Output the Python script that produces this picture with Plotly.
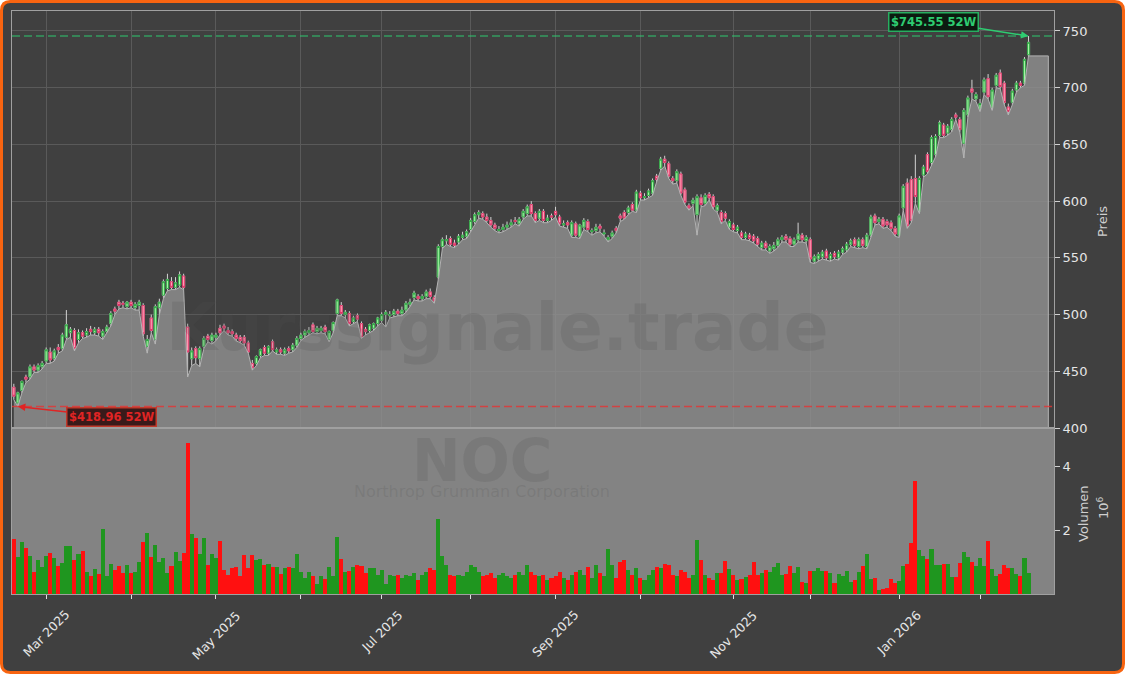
import pandas as pd
import plotly.graph_objects as go

W, H = 1125, 674
ML, MR, MT, MB = 12, 71, 11, 80
VOL_TOP = 0.2847  # share of plot height used by the volume panel

# trading calendar NOC, 52 weeks
holidays = ["2025-04-18", "2025-05-26", "2025-06-19", "2025-07-04", "2025-09-01",
            "2025-11-27", "2025-12-25", "2026-01-01", "2026-01-19", "2026-02-16"]
dates = pd.bdate_range("2025-02-19", "2026-02-19", freq="C", holidays=holidays)

opens = [
    436, 422, 433, 445, 445, 454, 451, 454, 459, 467,
    461, 471, 470, 480, 484, 486, 478, 484, 482, 487,
    484, 487, 481, 485, 492, 505, 511, 510, 507, 511,
    506, 508, 508, 472, 497, 478, 506, 517, 523, 529,
    524, 526, 534, 489, 461, 470, 461, 472, 481, 477,
    480, 488, 490, 486, 485, 482, 480, 480, 475, 457,
    457, 464, 471, 466, 476, 467, 469, 466, 470, 469,
    473, 479, 482, 484, 491, 485, 486, 489, 478, 486,
    501, 508, 500, 501, 494, 499, 492, 487, 486, 488,
    492, 495, 500, 499, 500, 503, 501, 504, 509, 515,
    516, 514, 516, 520, 515, 533, 560, 565, 567, 563,
    564, 568, 569, 575, 582, 588, 589, 586, 583, 579,
    574, 575, 577, 579, 583, 580, 586, 589, 597, 589,
    585, 591, 583, 587, 591, 586, 579, 581, 570, 580,
    569, 577, 582, 573, 574, 578, 571, 566, 569, 576,
    587, 590, 590, 597, 592, 607, 603, 605, 607, 622,
    629, 637, 633, 620, 618, 624, 610, 596, 598, 588,
    603, 598, 606, 604, 592, 590, 589, 577, 579, 574,
    572, 568, 570, 569, 567, 559, 563, 556, 558, 561,
    566, 569, 567, 562, 566, 570, 565, 566, 547, 549,
    551, 556, 549, 554, 550, 555, 557, 562, 566, 560,
    566, 560, 570, 587, 582, 584, 582, 581, 576, 570,
    594, 616, 619, 620, 591, 623, 641, 634, 641, 658,
    667, 660, 663, 676, 672, 651, 676, 699, 690, 681,
    696, 708, 682, 702, 713, 704, 683, 687, 698, 704,
    704, 729,
]
highs = [
    439, 432, 442, 447, 456, 456, 457, 459, 471, 471,
    470, 474, 484, 504, 489, 488, 487, 486, 488, 490,
    489, 489, 487, 491, 503, 507, 513, 512, 512, 513,
    511, 513, 510, 482, 500, 509, 514, 531, 536, 533,
    533, 538, 536, 492, 471, 472, 472, 481, 483, 484,
    484, 491, 492, 489, 487, 484, 482, 482, 477, 460,
    464, 470, 473, 473, 478, 471, 471, 471, 472, 475,
    481, 484, 487, 489, 493, 490, 490, 491, 486, 494,
    514, 511, 504, 503, 499, 501, 494, 489, 492, 493,
    498, 502, 504, 503, 505, 505, 507, 512, 514, 521,
    518, 518, 522, 523, 517, 562, 568, 570, 569, 566,
    571, 573, 575, 585, 590, 592, 591, 589, 586, 581,
    578, 580, 582, 584, 586, 586, 593, 597, 600, 591,
    593, 593, 588, 589, 595, 588, 583, 583, 583, 582,
    580, 585, 584, 576, 580, 580, 575, 570, 574, 578,
    589, 592, 596, 599, 610, 609, 607, 611, 620, 624,
    639, 640, 635, 622, 628, 626, 612, 598, 603, 606,
    606, 607, 608, 606, 598, 592, 591, 584, 581, 579,
    574, 573, 572, 571, 569, 565, 565, 562, 564, 568,
    570, 571, 569, 568, 581, 572, 570, 568, 553, 555,
    557, 558, 555, 556, 557, 560, 564, 567, 568, 568,
    568, 572, 588, 589, 586, 586, 584, 583, 578, 589,
    615, 620, 622, 641, 622, 632, 643, 658, 659, 671,
    669, 668, 674, 678, 674, 682, 693, 707, 696, 690,
    709, 712, 700, 713, 716, 706, 686, 699, 706, 706,
    727, 745.55,
]
lows = [
    425, 418.96, 431, 440, 443, 449, 449, 452, 457, 457,
    459, 466, 468, 478, 480, 468, 475, 479, 480, 482,
    482, 481, 478, 484, 490, 500, 505, 506, 505, 506,
    504, 504, 481, 466, 484, 474, 500, 514, 521, 522,
    522, 524, 522, 445, 455, 457, 454, 470, 476, 474,
    477, 482, 486, 482, 481, 477, 475, 473, 466, 451,
    455, 462, 464, 464, 468, 465, 465, 464, 466, 467,
    471, 477, 480, 482, 484, 483, 484, 483, 476, 484,
    499, 499, 497, 490, 492, 494, 479, 482, 484, 486,
    490, 493, 489, 497, 498, 499, 499, 502, 507, 513,
    512, 512, 514, 514, 510, 531, 558, 562, 560, 559,
    562, 566, 567, 573, 580, 585, 584, 581, 577, 574,
    572, 573, 575, 577, 580, 578, 584, 587, 587, 581,
    583, 581, 581, 583, 586, 578, 577, 576, 568, 568,
    567, 575, 573, 570, 572, 573, 569, 564, 567, 572,
    582, 584, 588, 591, 590, 601, 601, 603, 605, 617,
    627, 631, 620, 615, 616, 605, 597, 592, 596, 570,
    595, 596, 601, 593, 590, 580, 583, 575, 573, 572,
    566, 566, 565, 563, 560, 557, 557, 554, 556, 559,
    564, 564, 560, 560, 564, 564, 563, 546, 545, 547,
    549, 548, 547, 549, 548, 553, 555, 560, 559, 558,
    559, 558, 568, 579, 580, 576, 577, 574, 569, 568,
    592, 576, 581, 598, 589, 621, 624, 632, 639, 656,
    656, 658, 661, 672, 661, 638, 674, 690, 688, 679,
    694, 690, 680, 700, 699, 685, 676, 685, 696, 700,
    702, 728,
]
closes = [
    428, 431, 441, 443, 454, 451, 455, 457, 469, 460,
    468, 469, 482, 491, 487, 470, 484, 481, 485, 485,
    487, 484, 485, 489, 501, 503, 508, 509, 511, 508,
    509, 511, 483, 478, 486, 507, 511, 529, 531, 524,
    528, 535, 524, 467, 468, 462, 470, 479, 478, 482,
    482, 484, 488, 484, 483, 479, 477, 475, 467, 453,
    463, 469, 466, 472, 469, 469, 467, 469, 468, 473,
    479, 482, 485, 486, 485, 488, 488, 485, 485, 493,
    513, 501, 502, 492, 497, 496, 480, 485, 491, 492,
    497, 500, 502, 500, 503, 501, 504, 510, 511, 519,
    514, 516, 520, 516, 512, 560, 566, 566, 562, 561,
    569, 570, 573, 583, 588, 590, 586, 583, 579, 576,
    575, 577, 579, 581, 582, 584, 591, 595, 589, 583,
    591, 583, 585, 586, 588, 580, 580, 579, 581, 570,
    579, 583, 575, 574, 577, 576, 572, 568, 572, 574,
    585, 585, 594, 592, 608, 603, 604, 609, 618, 619,
    637, 634, 622, 618, 626, 607, 599, 594, 601, 604,
    597, 605, 603, 595, 596, 582, 585, 582, 575, 577,
    568, 571, 567, 565, 562, 563, 559, 560, 561, 566,
    568, 566, 562, 566, 571, 566, 568, 549, 551, 553,
    555, 550, 553, 551, 555, 558, 562, 565, 561, 566,
    561, 570, 586, 581, 584, 578, 579, 576, 571, 587,
    613, 578, 583, 604, 620, 630, 626, 656, 657, 669,
    658, 666, 672, 674, 663, 680, 691, 696, 694, 686,
    707, 692, 698, 711, 701, 687, 679, 697, 704, 702,
    725, 740,
]
# volume in millions of shares
volumes = [
    1.72, 1.17, 1.62, 1.44, 1.19, 0.69, 1.06, 0.85, 1.19, 1.27,
    1.12, 0.87, 0.96, 1.50, 1.50, 1.06, 1.25, 1.34, 0.69, 0.56,
    0.78, 0.62, 2.03, 0.56, 0.94, 0.75, 0.87, 0.66, 0.91, 0.66,
    0.69, 1.00, 1.62, 1.90, 1.16, 1.53, 1.00, 1.12, 0.66, 0.87,
    1.31, 1.03, 1.28, 4.73, 1.87, 1.75, 1.25, 1.75, 0.91, 1.25,
    1.12, 1.66, 0.75, 0.59, 0.81, 0.84, 0.56, 1.22, 0.81, 1.22,
    1.06, 1.09, 0.91, 0.94, 0.84, 0.84, 0.62, 0.81, 0.84, 0.81,
    1.25, 0.69, 0.50, 0.69, 0.56, 0.31, 0.56, 0.47, 0.84, 0.56,
    1.78, 1.09, 0.69, 0.72, 0.84, 0.91, 0.87, 0.66, 0.81, 0.81,
    0.59, 0.75, 0.31, 0.59, 0.55, 0.60, 0.50, 0.60, 0.55, 0.65,
    0.45, 0.60, 0.70, 0.80, 0.75, 2.35, 1.20, 0.90, 0.60, 0.55,
    0.60, 0.55, 0.70, 0.90, 0.85, 0.70, 0.55, 0.60, 0.65, 0.50,
    0.60, 0.65, 0.55, 0.50, 0.60, 0.70, 0.60, 0.90, 0.70, 0.60,
    0.55, 0.60, 0.45, 0.50, 0.55, 0.70, 0.50, 0.45, 0.60, 0.70,
    0.75, 0.60, 0.85, 0.50, 0.90, 0.65, 0.55, 1.40, 0.90, 0.50,
    1.00, 1.05, 0.75, 0.60, 0.80, 0.50, 0.45, 0.60, 0.75, 0.85,
    0.80, 0.95, 0.90, 0.60, 0.55, 0.75, 0.70, 0.50, 0.60, 1.69,
    1.06, 0.59, 0.49, 0.44, 0.66, 0.66, 1.03, 0.78, 0.59, 0.44,
    0.47, 0.53, 0.59, 1.00, 0.59, 0.67, 0.75, 0.69, 0.85, 0.96,
    0.59, 0.62, 0.87, 0.66, 0.84, 0.37, 0.34, 0.72, 0.72, 0.81,
    0.72, 0.72, 0.66, 0.34, 0.62, 0.56, 0.72, 0.37, 0.44, 0.69,
    0.87, 1.25, 0.47, 0.50, 0.12, 0.16, 0.19, 0.47, 0.34, 0.41,
    0.87, 0.94, 1.59, 3.53, 1.37, 1.19, 1.09, 1.41, 0.91, 0.91,
    0.94, 0.94, 0.53, 0.53, 0.97, 1.31, 1.16, 1.00, 0.87, 1.12,
    0.87, 1.66, 0.78, 0.56, 0.62, 0.91, 0.81, 0.81, 0.62, 0.56,
    1.12, 0.66,
]
price_ticks = [400, 450, 500, 550, 600, 650, 700, 750]
vol_ticks = [2, 4]

BG = "#404040"
GRID = "#5a5a5a"
FRAME = "#a0a0a0"
TXT = "#e6e6e6"
FONT = "DejaVu Sans"
FILL_EXT = 4.9   # gray area runs a bit past the last session


def px_x(px):
    return (px - ML) / (W - ML - MR)


def px_y(py):
    return (H - MB - py) / (H - MT - MB)


x = list(range(len(dates)))
month_idx = [i for i in range(1, len(dates)) if dates[i].month != dates[i - 1].month]
body_hi = [max(o, c) for o, c in zip(opens, closes)]
body_lo = [min(o, c) for o, c in zip(opens, closes)]
vol_colors = ["#1f961f" if c >= o else "#ff1010" for o, c in zip(opens, closes)]

fig = go.Figure()

# wicks
fig.add_trace(go.Candlestick(
    x=x, open=opens, high=highs, low=lows, close=closes,
    increasing=dict(line=dict(color="#d2d2d2", width=1), fillcolor="#d2d2d2"),
    decreasing=dict(line=dict(color="#d2d2d2", width=1), fillcolor="#d2d2d2"),
    whiskerwidth=0, showlegend=False, hoverinfo="skip", xaxis="x", yaxis="y"))
# bodies
fig.add_trace(go.Candlestick(
    x=x, open=opens, high=body_hi, low=body_lo, close=closes,
    increasing=dict(line=dict(color="#25a03a", width=0.9), fillcolor="#a4f4a4"),
    decreasing=dict(line=dict(color="#dc2a60", width=0.9), fillcolor="#ffa3b8"),
    whiskerwidth=0, showlegend=False, hoverinfo="skip", xaxis="x", yaxis="y"))
# gray area under the lows
fig.add_trace(go.Scatter(
    x=x + [x[-1] + FILL_EXT, x[-1] + FILL_EXT], y=lows + [lows[-1], 0],
    mode="lines", fill="tozeroy", fillcolor="rgba(144,144,144,0.82)",
    line=dict(color="#b4b4b4", width=1), showlegend=False, hoverinfo="skip",
    xaxis="x", yaxis="y"))
# volume
fig.add_trace(go.Bar(
    x=x, y=volumes, width=1.0, marker=dict(color=vol_colors, line=dict(width=0)),
    showlegend=False, hoverinfo="skip", xaxis="x2", yaxis="y2"))

axis_font = dict(family=FONT, size=13, color=TXT)
fig.update_layout(
    width=W, height=H, margin=dict(l=ML, r=MR, t=MT, b=MB),
    paper_bgcolor="white", plot_bgcolor="rgba(0,0,0,0)",
    font=dict(family=FONT, color=TXT), bargap=0, boxgap=0.25, hovermode=False,
    xaxis=dict(domain=[0, 1], anchor="y", range=[-0.45, 257.3],
               tickvals=month_idx, showticklabels=False, ticks="",
               showgrid=True, gridcolor=GRID, gridwidth=1, zeroline=False,
               showline=True, mirror=True, linecolor=FRAME, linewidth=1,
               rangeslider=dict(visible=False)),
    xaxis2=dict(domain=[0, 1], anchor="y2", matches="x", range=[-0.45, 257.3],
                tickvals=month_idx, showticklabels=False, ticks="outside",
                ticklen=4, tickcolor="#e0e0e0", showgrid=False, zeroline=False,
                showline=True, mirror=True, linecolor=FRAME, linewidth=1,
                rangeslider=dict(visible=False)),
    yaxis=dict(domain=[VOL_TOP, 1], anchor="x", side="right", range=[400, 767.6],
               tickvals=price_ticks, ticks="outside", ticklen=5, tickcolor="#d0d0d0",
               tickfont=axis_font, showgrid=True, gridcolor=GRID, gridwidth=1,
               zeroline=False, showline=True, mirror=True, linecolor=FRAME),
    yaxis2=dict(domain=[0, VOL_TOP], anchor="x2", side="right", range=[0, 5.19],
                tickvals=vol_ticks, ticktext=[str(v) for v in vol_ticks],
                ticks="outside", ticklen=5, tickcolor="#d0d0d0", tickfont=axis_font,
                showgrid=False, zeroline=False, showline=True, mirror=True,
                linecolor=FRAME),
)

# rounded orange frame around the whole figure
l, r, t, b, rad = 1.5, W - 1.5, 1.5, H - 1.5, 9
pts = [("M", l + rad, t), ("L", r - rad, t), ("Q", r, t, r, t + rad), ("L", r, b - rad),
       ("Q", r, b, r - rad, b), ("L", l + rad, b), ("Q", l, b, l, b - rad),
       ("L", l, t + rad), ("Q", l, t, l + rad, t)]
path = ""
for p in pts:
    coords = p[1:]
    path += p[0] + " " + " ".join(
        f"{px_x(coords[k]):.5f},{px_y(coords[k + 1]):.5f}" for k in range(0, len(coords), 2)) + " "
path += "Z"
fig.add_shape(type="path", path=path, xref="paper", yref="paper",
              fillcolor=BG, line=dict(color="#f86410", width=3), layer="below")
fig.add_shape(type="rect", xref="x2 domain", yref="y2 domain", x0=0, x1=1, y0=0, y1=1,
              fillcolor="#838383", line=dict(width=0), layer="below")

hi_val = max(highs)
lo_val = min(lows)
hi_i = highs.index(hi_val)
lo_i = lows.index(lo_val)
fig.add_shape(type="line", xref="x domain", yref="y", x0=0, x1=1, y0=hi_val, y1=hi_val,
              line=dict(color="rgba(46,204,113,0.65)", width=1.5, dash="8px,4px"))
fig.add_shape(type="line", xref="x domain", yref="y", x0=0, x1=1, y0=lo_val, y1=lo_val,
              line=dict(color="rgba(230,50,50,0.8)", width=1.5, dash="8px,4px"))

fig.add_annotation(x=hi_i, y=hi_val, xref="x", yref="y", text=f"<b>${hi_val:.2f} 52W</b>",
                   showarrow=True, ax=-95, ay=-14.5, arrowhead=2, arrowsize=1,
                   arrowwidth=1.5, arrowcolor="#2ecc71",
                   font=dict(family=FONT, size=11.5, color="#2ecc71"),
                   bgcolor="#0c1a10", bordercolor="#27ae60", borderwidth=1.5, borderpad=1.5)
fig.add_annotation(x=lo_i, y=lo_val, xref="x", yref="y", text=f"<b>${lo_val:.2f} 52W</b>",
                   showarrow=True, ax=94, ay=10.5, arrowhead=2, arrowsize=1,
                   arrowwidth=1.5, arrowcolor="#e02424",
                   font=dict(family=FONT, size=11.5, color="#e02424"),
                   bgcolor="#3a1a1a", bordercolor="#c0392b", borderwidth=1.5, borderpad=1.5)

# watermark
wm = "rgba(80,80,80,0.19)"
for txt, cx, cy, size in [("<b>Kurssignale.trade</b>", 497.5, 327, 66),
                          ("<b>NOC</b>", 482, 461, 58),
                          ("Northrop Grumman Corporation", 482, 491.5, 16)]:
    fig.add_annotation(x=px_x(cx), y=px_y(cy), xref="paper", yref="paper", text=txt,
                       showarrow=False, xanchor="center", yanchor="middle",
                       font=dict(family=FONT, size=size, color=wm))

# axis titles
for txt, cx, cy in [("Preis", 1102, 222), ("Volumen", 1083, 514), ("10<sup>6</sup>", 1103, 508)]:
    fig.add_annotation(x=px_x(cx), y=px_y(cy), xref="paper", yref="paper", text=txt,
                       showarrow=False, textangle=-90, xanchor="center", yanchor="middle",
                       font=dict(family=FONT, size=13, color="#cfcfcf"))

# month labels, every second month, rotated and centred under the tick
for i in month_idx[::2]:
    fig.add_annotation(x=i, y=px_y(605), xref="x2", yref="paper",
                       text=dates[i].strftime("%b %Y"), showarrow=False,
                       textangle=-45, xanchor="center", yanchor="top",
                       font=dict(family=FONT, size=12.5, color=TXT))

fig.write_html("out.html", config={"displayModeBar": False},
               post_script="document.body.style.margin='0';document.body.style.overflow='hidden';")
